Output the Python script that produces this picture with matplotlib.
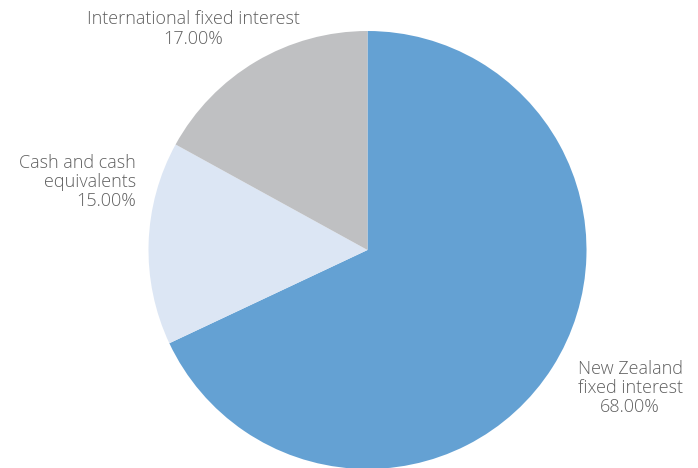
import matplotlib
matplotlib.use("Agg")
from matplotlib import pyplot as plt

categories = ["New Zealand\nfixed interest", "Cash and cash\nequivalents", "International fixed interest"]
values = [68.00, 15.00, 17.00]
colors = ["#64A1D3", "#DCE6F4", "#BFC0C2"]

plt.rcParams['font.family'] = ['Open Sans', 'DejaVu Sans']

fig = plt.figure(figsize=(6.98, 4.68), dpi=100)
ax = fig.add_axes([0, 0, 1, 1])

# pie in pixel units (y up)
ax.pie(values, colors=colors, startangle=90, counterclock=False,
       center=(367.5, 218), radius=219, frame=True,
       wedgeprops=dict(linewidth=0))
ax.set_xlim(0, 698)
ax.set_ylim(0, 468)
ax.set_aspect('equal')
ax.axis('off')

# label positions (pixels from top-left), alignment
label_pos = [(630, 388, 'center'), (136, 182, 'right'), (193, 29, 'center')]
for name, v, (x, y, ha) in zip(categories, values, label_pos):
    ax.text(x, 468 - y, f"{name}\n{v:.2f}%", ha=ha, va='center', multialignment=ha,
            fontsize=13, color='#606060', fontweight='light', linespacing=1.1)

plt.savefig('out.png', dpi=100)
